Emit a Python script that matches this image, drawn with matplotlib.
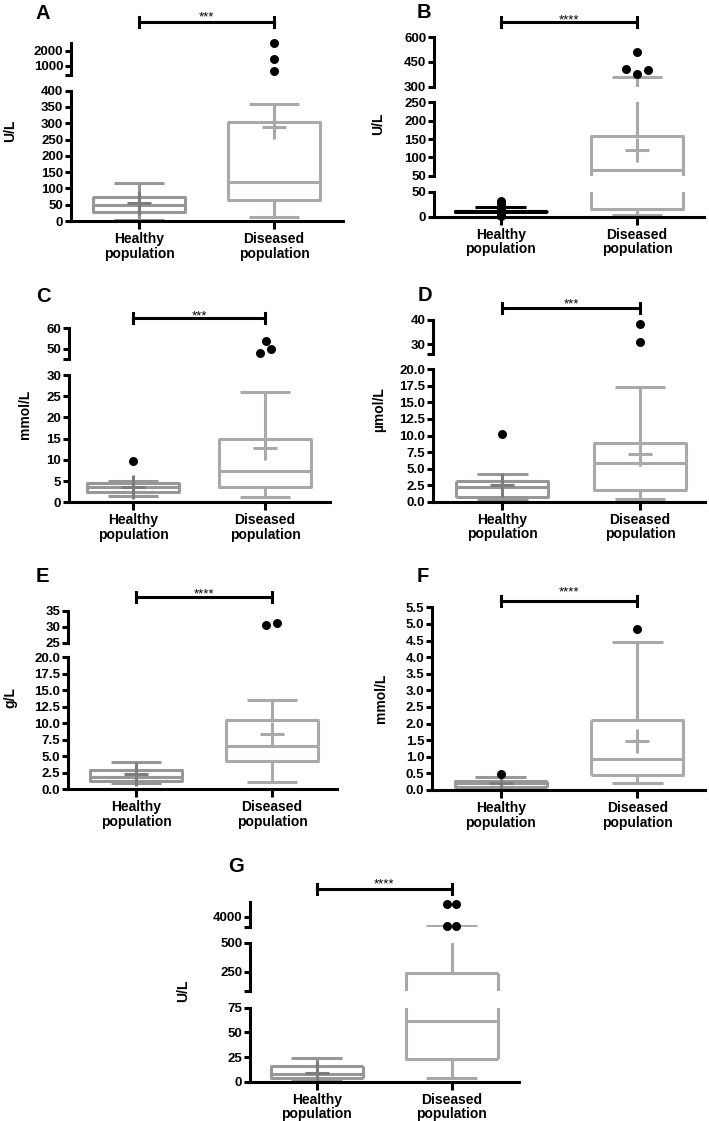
import numpy as np
import matplotlib.pyplot as plt
import matplotlib.transforms as mtransforms
from matplotlib.lines import Line2D
from matplotlib.ticker import FormatStrFormatter

plt.rcParams['font.family'] = ['Liberation Sans', 'DejaVu Sans']

W, H = 709, 1121

categories = ['Healthy\npopulation', 'Diseased\npopulation']

# box stats: whisker low, Q1, median, Q3, whisker high, mean
a_healthy = [2, 27, 50, 75, 118, 55]
a_diseased = [11, 63, 120, 303, 358, 290]
a_healthy_out = []
a_diseased_out = [650, 1450, 2530]

b_healthy = [0, 10, 11, 12, 20, None]
b_diseased = [3, 15, 66, 159, 361, 120]
b_healthy_out = [1, 4, 7, 14, 17, 22, 25, 28, 31]
b_diseased_out = [509, 406, 380, 400]

c_healthy = [1.6, 2.5, 3.5, 4.5, 5.0, 3.7]
c_diseased = [1.3, 3.7, 7.4, 14.8, 26, 12.9]
c_healthy_out = [9.7]
c_diseased_out = [53.7, 48.1, 50.0]

d_healthy = [0.25, 0.65, 2.2, 3.07, 4.2, 2.5]
d_diseased = [0.35, 1.7, 5.9, 8.9, 17.3, 7.15]
d_healthy_out = [10.3]
d_diseased_out = [38.2, 31.1]

e_healthy = [0.9, 1.3, 1.8, 2.85, 4.15, 2.3]
e_diseased = [1.1, 4.3, 6.56, 10.45, 13.5, 8.4]
e_healthy_out = []
e_diseased_out = [30.4, 31.2]

f_healthy = [0.03, 0.1, 0.2, 0.28, 0.38, 0.22]
f_diseased = [0.2, 0.45, 0.93, 2.1, 4.46, 1.47]
f_healthy_out = [0.48]
f_diseased_out = [4.86]

g_healthy = [1.5, 4, 7.8, 16.2, 23.7, 9]
g_diseased = [3.4, 23, 61.8, 240, 3070, None]
g_healthy_out = []
g_diseased_out = [5240, 5240, 3070, 3070]

# horizontal spread of the outlier dots (pixels)
b_diseased_jit = [0, -11, 0, 11]
c_diseased_jit = [1, -5, 6]
e_diseased_jit = [-6, 5]
g_diseased_jit = [-4.5, 4.5, -4.5, 4.5]

# axis segments: (ymin, ymax, bottom px, top px), ticks, end ticks
panels = [
    dict(letter='A', unit='U/L', stars='***', h=a_healthy, d=a_diseased,
         h_out=a_healthy_out, d_out=a_diseased_out, d_jit=None,
         spine=71, right=343, centers=(139, 274),
         segs=[(0, 400, 221, 90.7), (360, 2530, 75.3, 43)],
         ticks=[np.arange(0, 401, 50), [1000, 2000]], minor=[[], [360]], fmt=[None, None],
         bar_y=22, star_y=13.3, letter_xy=(35, 19), ylab_xy=(10, 131)),
    dict(letter='B', unit='U/L', stars='****', h=b_healthy, d=b_diseased,
         h_out=b_healthy_out, d_out=b_diseased_out, d_jit=b_diseased_jit,
         spine=434, right=704, centers=(500.7, 637),
         segs=[(0, 50, 216.7, 191.7), (50, 250, 175.7, 102.3), (300, 600, 86.7, 37.3)],
         ticks=[[0, 50], [50, 100, 150, 200, 250], [300, 450, 600]], minor=[[], [], []],
         fmt=[None, None, None],
         bar_y=22, star_y=15.7, letter_xy=(417, 18), ylab_xy=(378, 124), healthy_black=True),
    dict(letter='C', unit='mmol/L', stars='***', h=c_healthy, d=c_diseased,
         h_out=c_healthy_out, d_out=c_diseased_out, d_jit=c_diseased_jit,
         spine=69, right=330, centers=(133, 265),
         segs=[(0, 30, 502.3, 375), (45, 60, 359.3, 328.3)],
         ticks=[np.arange(0, 31, 5), [50, 60]], minor=[[], [45]], fmt=[None, None],
         bar_y=318.3, star_y=311.7, letter_xy=(36, 302), ylab_xy=(25, 414)),
    dict(letter='D', unit='µmol/L', stars='***', h=d_healthy, d=d_diseased,
         h_out=d_healthy_out, d_out=d_diseased_out, d_jit=None,
         spine=433, right=705, centers=(502.3, 640),
         segs=[(0, 20, 501.7, 369.3), (26, 40, 354, 320)],
         ticks=[np.arange(0, 20.1, 2.5), [30, 40]], minor=[[], [26]], fmt=['%.1f', None],
         bar_y=307.7, star_y=300, letter_xy=(418, 301), ylab_xy=(379, 410)),
    dict(letter='E', unit='g/L', stars='****', h=e_healthy, d=e_diseased,
         h_out=e_healthy_out, d_out=e_diseased_out, d_jit=e_diseased_jit,
         spine=68, right=337, centers=(136, 272),
         segs=[(0, 20, 789.3, 657.3), (25, 35, 642.7, 610.7)],
         ticks=[np.arange(0, 20.1, 2.5), [25, 30, 35]], minor=[[], []], fmt=['%.1f', None],
         bar_y=597.3, star_y=590, letter_xy=(36, 582), ylab_xy=(10, 698)),
    dict(letter='F', unit='mmol/L', stars='****', h=f_healthy, d=f_diseased,
         h_out=f_healthy_out, d_out=f_diseased_out, d_jit=None,
         spine=432, right=705, centers=(500.7, 637.3),
         segs=[(0, 5.5, 790, 607.3)],
         ticks=[np.arange(0, 5.51, 0.5)], minor=[[]], fmt=['%.1f'],
         bar_y=601, star_y=588.3, letter_xy=(417, 582), ylab_xy=(381, 698)),
    dict(letter='G', unit='U/L', stars='****', h=g_healthy, d=g_diseased,
         h_out=g_healthy_out, d_out=g_diseased_out, d_jit=g_diseased_jit,
         spine=250, right=519, centers=(316.7, 451.7),
         segs=[(0, 75, 1081.7, 1007.7), (84, 500, 991, 942.7), (3000, 5500, 926.7, 901.7)],
         ticks=[[0, 25, 50, 75], [250, 500], [4000]], minor=[[], [84], [3000]],
         fmt=[None, None, None],
         bar_y=889, star_y=880, letter_xy=(228, 872), ylab_xy=(183, 991)),
]

LW = 2.2
BOX_PX = 92
healthy_color = '#979797'
healthy_mean = '#7c7c7c'
diseased_color = '#a9a9a9'


def draw_group(ax, x, st, w, color, mean_color, ylo, yhi):
    lo, q1, med, q3, hi, mean = st
    inside = lambda v: v is not None and ylo <= v <= yhi
    kw = dict(color=color, lw=LW, solid_capstyle='butt')
    # vertical parts are clipped by the segment's own limits
    ax.plot([x - w / 2, x - w / 2], [q1, q3], **kw)
    ax.plot([x + w / 2, x + w / 2], [q1, q3], **kw)
    ax.plot([x, x], [lo, q1], **kw)
    ax.plot([x, x], [q3, hi], **kw)
    # horizontal parts only where they fall inside the segment
    for v in [q1, q3, med]:
        if inside(v):
            ax.plot([x - w / 2 - 0.004, x + w / 2 + 0.004], [v, v], **kw)
    cw = w * 0.55
    for v in [lo, hi]:
        if inside(v):
            ax.plot([x - cw / 2, x + cw / 2], [v, v], **kw)
    if inside(mean):
        ax.plot([x], [mean], marker='+', ms=17, mew=LW, color=mean_color, ls='none')


def draw_outliers(ax, x, vals, jit, ppu, lo, hi):
    if not vals:
        return
    jit = jit if jit is not None else [0] * len(vals)
    xs = [x + j / ppu for j, v in zip(jit, vals) if lo <= v <= hi]
    ys = [v for v in vals if lo <= v <= hi]
    if ys:
        ax.scatter(xs, ys, s=42, color='black', zorder=5, clip_on=False, linewidths=0)


fig = plt.figure(figsize=(W / 100, H / 100), dpi=100)

for p in panels:
    c1, c2 = p['centers']
    ppu = c2 - c1
    xlim = (1 - (c1 - p['spine']) / ppu, 2 + (p['right'] - c2) / ppu)
    w = BOX_PX / ppu
    black = p.get('healthy_black', False)
    axes = []
    for i, (lo, hi, yb, yt) in enumerate(p['segs']):
        ax = fig.add_axes([p['spine'] / W, 1 - yb / H, (p['right'] - p['spine']) / W, (yb - yt) / H])
        ax.patch.set_alpha(0)
        ax.set_xlim(xlim)
        ax.set_ylim(lo, hi)
        for s in ['top', 'right']:
            ax.spines[s].set_visible(False)
        ax.spines['left'].set_linewidth(LW)
        ax.set_yticks(p['ticks'][i])
        ax.set_yticks(p['minor'][i], minor=True)
        if p['fmt'][i]:
            ax.yaxis.set_major_formatter(FormatStrFormatter(p['fmt'][i]))
        ax.tick_params(axis='y', which='both', direction='out', length=4.5, width=LW, pad=1)
        ax.tick_params(axis='y', labelsize=9.5)
        for t in ax.get_yticklabels():
            t.set_fontweight('bold')
        if i == 0:
            ax.spines['bottom'].set_linewidth(LW)
            ax.set_xticks([1, 2])
            ax.set_xticklabels(categories, fontsize=10, fontweight='bold', linespacing=1.05)
            ax.tick_params(axis='x', direction='out', length=6, width=LW, pad=2)
        else:
            ax.spines['bottom'].set_visible(False)
            ax.tick_params(axis='x', bottom=False, labelbottom=False)

        hc = 'black' if black else healthy_color
        hm = 'black' if black else healthy_mean
        draw_group(ax, 1, p['h'], w, hc, hm, lo, hi)
        draw_group(ax, 2, p['d'], w, diseased_color, diseased_color, lo, hi)
        draw_outliers(ax, 1, p['h_out'], None, ppu, lo, hi)
        draw_outliers(ax, 2, p['d_out'], p['d_jit'], ppu, lo, hi)
        axes.append(ax)

    # significance bar
    trans = mtransforms.blended_transform_factory(axes[0].transData, fig.transFigure)
    yb = 1 - p['bar_y'] / H
    tk = 5 / H
    fig.add_artist(Line2D([1, 2], [yb, yb], transform=trans, color='black', lw=LW))
    for xx in [1, 2]:
        fig.add_artist(Line2D([xx, xx], [yb - tk, yb + tk], transform=trans, color='black', lw=LW))
    fig.text(1.5, 1 - (p['star_y'] + 7.3) / H, p['stars'], transform=trans,
             ha='center', va='baseline', fontsize=9.5)

    lx, ly = p['letter_xy']
    fig.text(lx / W, 1 - ly / H, p['letter'], ha='left', va='baseline',
             fontsize=14.5, fontweight='bold')
    ux, uy = p['ylab_xy']
    fig.text(ux / W, 1 - uy / H, p['unit'], ha='center', va='center', rotation=90,
             fontsize=10, fontweight='bold')

fig.savefig('out.png', dpi=100)
